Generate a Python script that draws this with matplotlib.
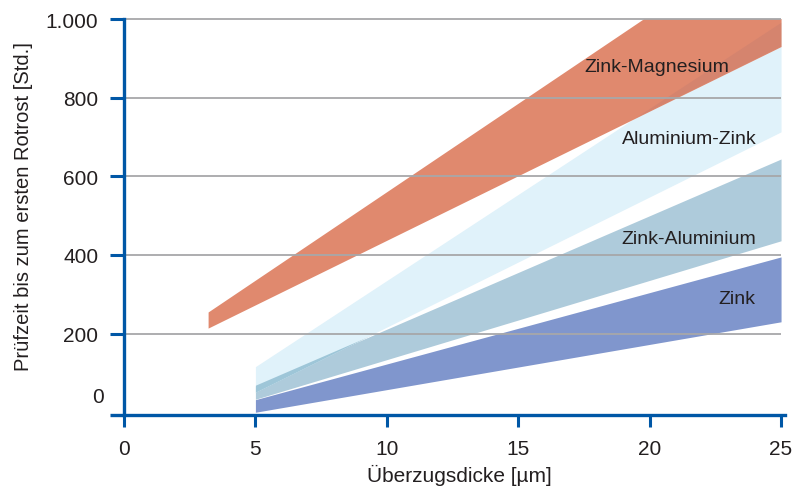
import matplotlib
matplotlib.use("Agg")
import matplotlib.pyplot as plt
from matplotlib.lines import Line2D

plt.rcParams["font.family"] = ["Liberation Sans", "DejaVu Sans"]

# ===================== Daten =====================
# Überzugsdicke [µm] und Prüfzeit bis Rotrost [Std.], jeweils untere/obere Grenze
zm_x = [3.2, 25.0]
zm_lo = [214, 930]
zm_hi = [255, 1236]

alzn_x = [5.0, 25.0]
alzn_lo = [51, 713]
alzn_hi = [116, 992]

znal_x = [5.0, 25.0]
znal_lo = [33, 436]
znal_hi = [67, 644]

zn_x = [5.0, 25.0]
zn_lo = [0, 230]
zn_hi = [32, 395]

x_ticks = [0, 5, 10, 15, 20, 25]
y_ticks = [200, 400, 600, 800, 1000]
y_tick_labels = ["200", "400", "600", "800", "1.000"]

labels = ["Zink-Magnesium", "Aluminium-Zink", "Zink-Aluminium", "Zink"]
label_x = [20.28, 21.5, 21.5, 23.32]
label_y = [878, 697, 443, 288]

# ===================== Farben =====================
BLUE = "#0057A6"
GRID = "#A7A7A9"
TEXT = "#231F20"
C_ZM = "#E0896E"
C_ALZN = "#E0F2FA"
C_ZNAL = "#AECBDB"
C_ZN = "#8096CD"
C_ZM_ALZN = "#D5846E"
C_ALZN_ZNAL = "#9EC6D8"

fig = plt.figure(figsize=(8.03, 4.89), dpi=100)
ax = fig.add_axes([124 / 803, 1 - 416 / 489, 661 / 803, 396 / 489])
ax.set_xlim(0, 25.15)
ax.set_ylim(-7, 1000)

# Bänder
zn = ax.fill_between(zn_x, zn_lo, zn_hi, color=C_ZN, lw=0, zorder=1)
znal = ax.fill_between(znal_x, znal_lo, znal_hi, color=C_ZNAL, lw=0, zorder=1)
alzn = ax.fill_between(alzn_x, alzn_lo, alzn_hi, color=C_ALZN, lw=0, zorder=1)
zm = ax.fill_between(zm_x, zm_lo, zm_hi, color=C_ZM, lw=0, zorder=1)

# Überlappungen
ov1 = ax.fill_between(alzn_x, alzn_lo, alzn_hi, color=C_ZM_ALZN, lw=0, zorder=1.5)
ov1.set_clip_path(zm.get_paths()[0], zm.get_transform())
ov2 = ax.fill_between(alzn_x, alzn_lo, alzn_hi, color=C_ALZN_ZNAL, lw=0, zorder=1.5)
ov2.set_clip_path(znal.get_paths()[0], znal.get_transform())

# Gitterlinien
ax.hlines(y_ticks, 0, 25, colors=GRID, lw=1.3, zorder=2, clip_on=False)

for name, lx, ly in zip(labels, label_x, label_y):
    ax.text(lx, ly, name, ha="center", va="center", fontsize=14, color=TEXT, zorder=3)

# Achsen
for s in ["top", "right"]:
    ax.spines[s].set_visible(False)
for s in ["left", "bottom"]:
    ax.spines[s].set_color(BLUE)
    ax.spines[s].set_linewidth(2.4)
ax.add_line(Line2D([-14 / 661, 0], [0, 0], transform=ax.transAxes, color=BLUE,
                   lw=2.4, clip_on=False, solid_capstyle="butt"))

ax.set_xticks(x_ticks)
ax.set_xticklabels([str(v) for v in x_ticks])
ax.set_yticks(y_ticks)
ax.set_yticklabels(y_tick_labels)
ax.tick_params(axis="x", direction="out", length=8.6, width=2.2, color=BLUE,
               labelsize=15, labelcolor=TEXT, pad=9)
ax.tick_params(axis="y", direction="out", length=10, width=2.2, color=BLUE,
               labelsize=15, labelcolor=TEXT, pad=8.6)
ax.annotate("0", xy=(0, 0), xycoords=("axes fraction", "data"), xytext=(-20, 16),
            textcoords="offset pixels", ha="right", va="center", fontsize=15, color=TEXT)

ax.set_xlabel("Überzugsdicke [µm]", fontsize=15, color=TEXT)
ax.xaxis.set_label_coords(0.507, -0.1237)
ax.set_ylabel("Prüfzeit bis zum ersten Rotrost [Std.]", fontsize=14.5, color=TEXT)
ax.yaxis.set_label_coords(-0.1377, 0.528)

fig.savefig("out.png", dpi=100)
